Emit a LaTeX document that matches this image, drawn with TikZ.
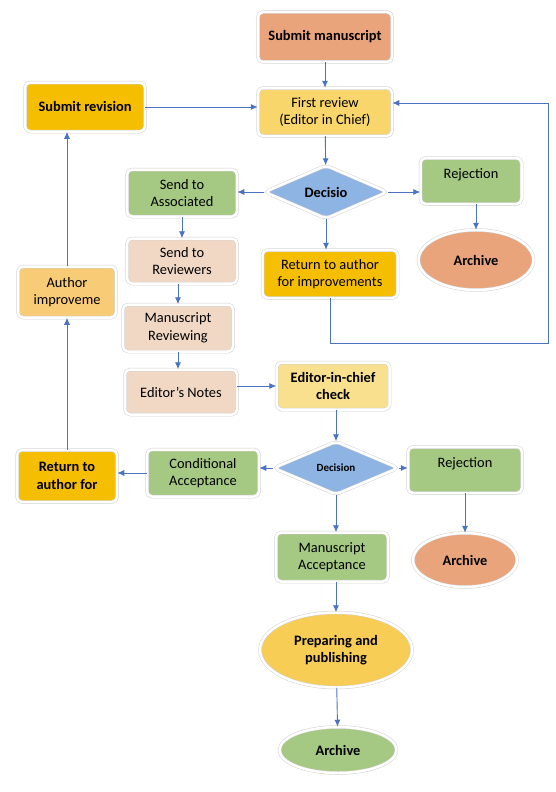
\documentclass[tikz,border=0pt]{standalone}
\usepackage{fontspec}
\setmainfont{Carlito}
\usepackage{tikz}
\usetikzlibrary{shapes,arrows}
\usetikzlibrary{shapes.geometric}
\usetikzlibrary{arrows.meta}
\definecolor{linkblue}{HTML}{4A74C2}
\definecolor{salmon}{HTML}{E9A47C}
\definecolor{gold}{HTML}{F8D66B}
\definecolor{amber}{HTML}{F6BE00}
\definecolor{leaf}{HTML}{A5C883}
\definecolor{peach}{HTML}{F1D8C5}
\definecolor{sky}{HTML}{8EB4E3}
\definecolor{paleyellow}{HTML}{F9E08F}
\definecolor{softorange}{HTML}{F8CB76}
\definecolor{sun}{HTML}{F7CD55}
\tikzstyle{line} = [draw=linkblue, line width=0.9pt, -{Latex[length=7pt, width=6pt]}]
\begin{document}
\begin{tikzpicture}[x=1pt, y=-1pt,
		font=\fontsize{14.4}{17.5}\selectfont,
		box/.style={rectangle, rounded corners=5pt, draw=black!18,
			line width=0.5pt, double=white, double distance=2.5pt,
			align=center, inner sep=2pt},
		oval/.style={box, ellipse, inner sep=0pt},
		decide/.style={box, diamond, inner sep=0pt},
		heavy/.style={font=\fontsize{14.4}{17.5}\selectfont\bfseries},
		raised/.style={text depth=15pt}]
		\useasboundingbox (0,0) rectangle (556,792);
		\node [box, heavy, fill=salmon, minimum width=134pt, minimum height=50pt] (subman) at (325,37) {Submit manuscript};
		\node [box, fill=gold, minimum width=134pt, minimum height=48pt] (firstrev) at (325,112) {First review\\(Editor in Chief)};
		\node [box, heavy, fill=amber, minimum width=120pt, minimum height=49pt] (subrev) at (85,107) {Submit revision};
		\node [decide, heavy, fill=sky, minimum width=123pt, minimum height=53pt] (decA) at (326,192) {Decisio};
		\node [box, raised, fill=leaf, minimum width=101pt, minimum height=46pt] (rejA) at (471,181) {Rejection};
		\node [oval, heavy, fill=salmon, minimum width=115pt, minimum height=60pt] (archA) at (476,260) {Archive};
		\node [box, fill=amber, minimum width=135pt, minimum height=48pt] (retimp) at (330,274) {Return to author\\for improvements};
		\node [box, fill=leaf, minimum width=110pt, minimum height=47pt] (sendassoc) at (182,193) {Send to\\Associated};
		\node [box, fill=peach, minimum width=110pt, minimum height=45pt] (sendrev) at (182,261) {Send to\\Reviewers};
		\node [box, fill=peach, minimum width=110pt, minimum height=47pt] (msrev) at (178,328) {Manuscript\\Reviewing};
		\node [box, fill=peach, minimum width=112pt, minimum height=45pt] (notes) at (181,392) {Editor's Notes};
		\node [box, heavy, fill=paleyellow, minimum width=113pt, minimum height=47pt] (eic) at (333,386) {Editor-in-chief\\check};
		\node [decide, fill=sky, minimum width=125pt, minimum height=53pt, font=\fontsize{11}{13}\selectfont\bfseries] (decB) at (336,468) {Decision};
		\node [box, raised, fill=leaf, minimum width=114pt, minimum height=46pt] (rejB) at (465,470) {Rejection};
		\node [oval, heavy, fill=salmon, minimum width=104pt, minimum height=54pt] (archB) at (465,560) {Archive};
		\node [box, fill=leaf, minimum width=112pt, minimum height=49pt] (macc) at (332,557) {Manuscript\\Acceptance};
		\node [box, fill=leaf, minimum width=112pt, minimum height=47pt] (cond) at (203,473) {Conditional\\Acceptance};
		\node [box, heavy, fill=amber, minimum width=100pt, minimum height=52pt] (retfor) at (67,476) {Return to\\author for};
		\node [box, fill=softorange, minimum width=98pt, minimum height=51pt] (author) at (67,292) {Author\\improveme};
		\node [oval, heavy, fill=sun, minimum width=152pt, minimum height=75pt] (prep) at (336,650) {Preparing and\\publishing};
		\node [oval, heavy, fill=leaf, minimum width=117pt, minimum height=46pt] (archC) at (338,750) {Archive};
		\coordinate (loopbot) at (548,343);
		\coordinate (looptop) at (548,103);
		%% Links
		\path [line] (subman) to (firstrev);
		\path [line] (subrev.east) to (subrev.east -| firstrev.west);
		\path [line] (firstrev) to (decA);
		\path [line] (decA.east) to (decA.east -| rejA.west);
		\path [line] (decA.west) to (decA.west -| sendassoc.east);
		\path [line] (decA.south) to (decA.south |- retimp.north);
		\path [line] (archA.north |- rejA.south) to (archA.north);
		\path [line] (retimp.south) |- (loopbot) -- (looptop) -- (looptop -| firstrev.east);
		\path [line] (sendassoc) to (sendrev);
		\path [line] (sendrev.south -| msrev.north) to (msrev.north);
		\path [line] (msrev.south) to (msrev.south |- notes.north);
		\path [line] (eic.west -| notes.east) to (eic.west);
		\path [line] (decB.north |- eic.south) to (decB.north);
		\path [line] (decB.west) to (decB.west -| cond.east);
		\path [line] (decB.east) to (decB.east -| rejB.west);
		\path [line] (decB.south) to (decB.south |- macc.north);
		\path [line] (rejB) to (archB);
		\path [line] (cond.west) to (cond.west -| retfor.east);
		\path [line] (retfor) to (author);
		\path [line] (author.north) to (author.north |- subrev.south);
		\path [line] (prep.north |- macc.south) to (prep.north);
		\path [line] (prep) to (archC);
		\end{tikzpicture}
\end{document}
